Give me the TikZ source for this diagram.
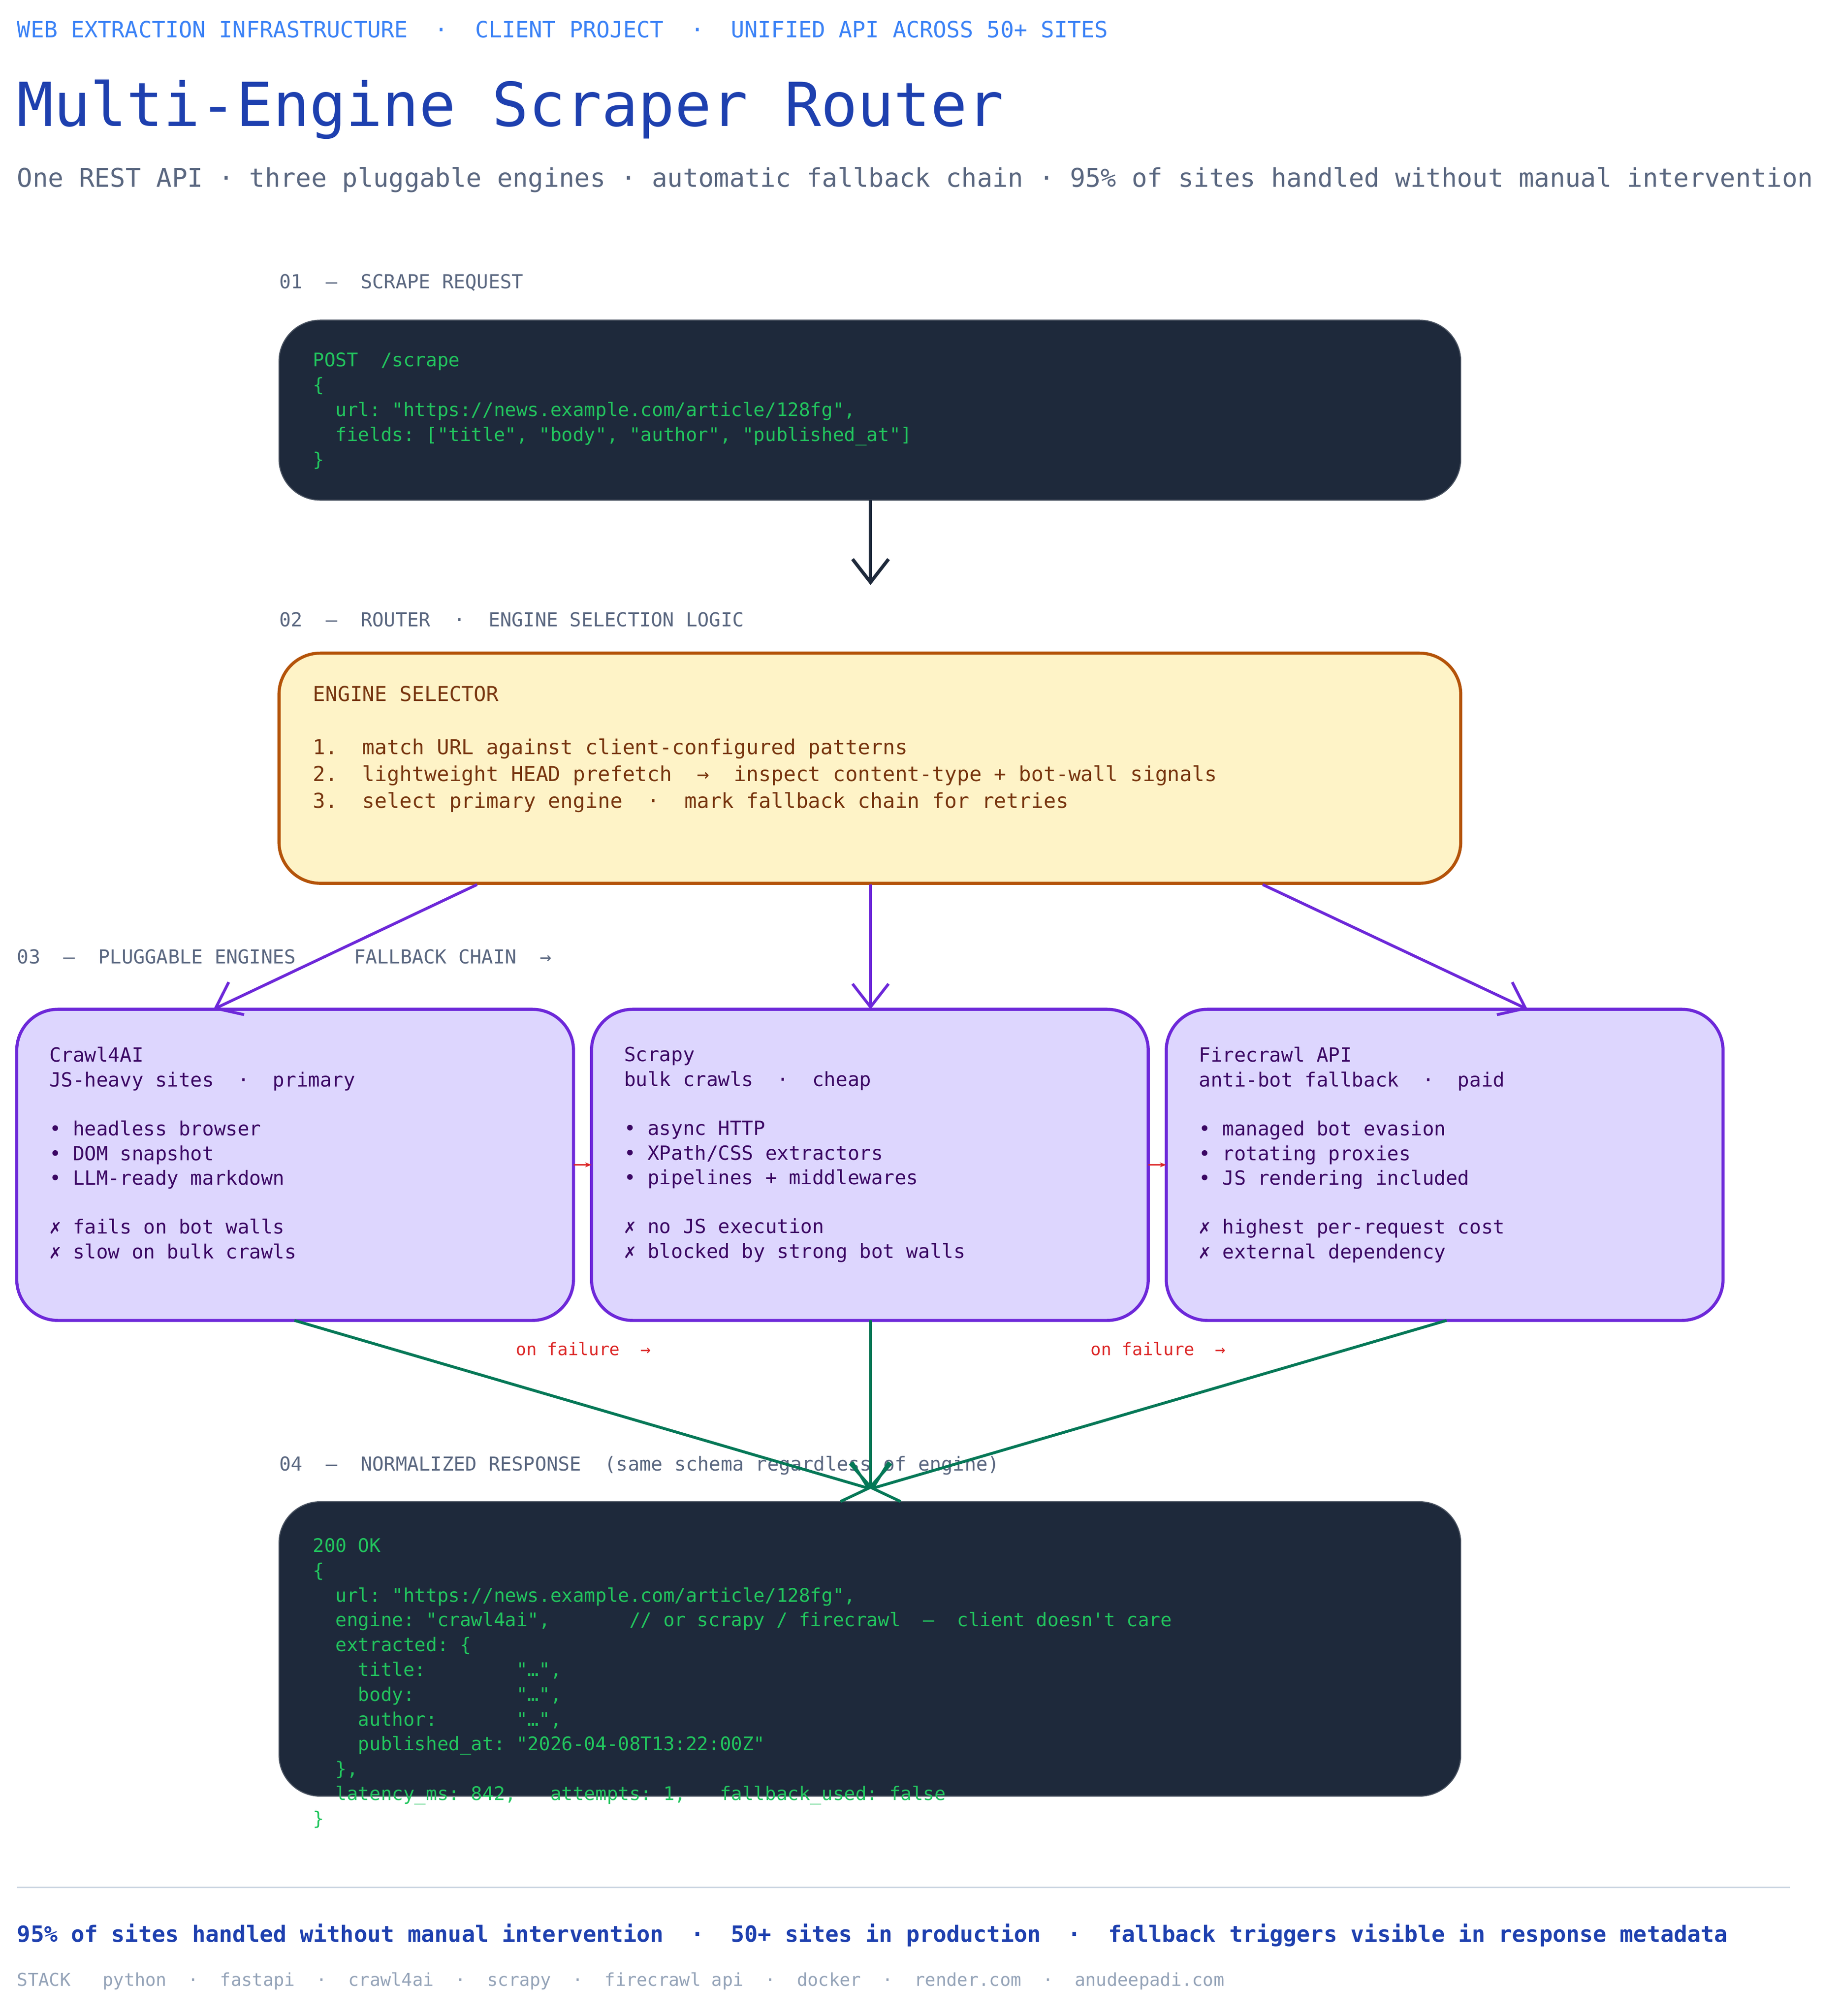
\documentclass[tikz,border=0pt]{standalone}
\usepackage{fontspec}
\setmonofont{DejaVu Sans Mono}
\renewcommand\familydefault{\ttdefault}
\usetikzlibrary{arrows.meta}
\definecolor{hdr}{HTML}{3B82F6}
\definecolor{ttl}{HTML}{1E40AF}
\definecolor{sub}{HTML}{5A6780}
\definecolor{dark}{HTML}{1E293B}
\definecolor{grn}{HTML}{22C55E}
\definecolor{yfill}{HTML}{FEF3C7}
\definecolor{ystroke}{HTML}{B45309}
\definecolor{ytext}{HTML}{78350F}
\definecolor{pfill}{HTML}{DDD6FE}
\definecolor{pstroke}{HTML}{6D28D9}
\definecolor{ptext}{HTML}{3B0764}
\definecolor{red1}{HTML}{DC2626}
\definecolor{green2}{HTML}{047857}
\definecolor{rule}{HTML}{CBD5E1}
\definecolor{stack}{HTML}{94A3B8}
\begin{document}
\begin{tikzpicture}[x=0.5pt,y=-0.5pt,
 txt/.style={inner sep=0pt,anchor=west},
 sec/.style={txt,text=sub,font=\fontsize{7.5}{9}\selectfont},
 code/.style={inner sep=0pt,anchor=north west,align=left,text=grn,font=\fontsize{7.3}{9.65}\selectfont},
 eng/.style={draw=pstroke,fill=pfill,line width=1.2pt,rounded corners=16pt},
 etext/.style={inner sep=0pt,anchor=north west,align=left,text=ptext,font=\fontsize{7.6}{9.55}\selectfont},
 parr/.style={draw=pstroke,line width=1.1pt,-{Straight Barb[length=9pt,width=14pt]}},
 garr/.style={draw=green2,line width=1.1pt,-{Straight Barb[length=9pt,width=16pt]}},
 rarr/.style={draw=red1,line width=0.6pt,-{Stealth[length=2.5pt]}}]
\useasboundingbox (0,0) rectangle (1430,1568);
\fill[white] (0,0) rectangle (1430,1568);
\node[txt,text=hdr,font=\fontsize{8.7}{10}\selectfont] (h) at (13,23) {WEB EXTRACTION INFRASTRUCTURE~~·~~CLIENT PROJECT~~·~~UNIFIED API ACROSS 50+ SITES};
\node[txt,text=ttl,font=\fontsize{23.6}{28}\selectfont] (t) at (13,85) {Multi-Engine Scraper Router};
\node[txt,text=sub,font=\fontsize{10}{12}\selectfont] (s) at (13,140) {One REST API · three pluggable engines · automatic fallback chain · 95\% of sites handled without manual intervention};

\node[sec] (l1) at (217,220) {01~~—~~SCRAPE REQUEST};
\draw[fill=dark,draw=dark!80,rounded corners=16pt] (217,249) rectangle (1136,389);
\coordinate (b1) at (677,389);
\node[code] (c1) at (243,274) {POST~~/scrape\\\{\\~~url: "https://news.example.com/article/128fg",\\~~fields: ["title", "body", "author", "published\_at"]\\\}};
\coordinate (a1) at (677,455);
\draw[draw=dark,line width=1.3pt,-{Straight Barb[length=9pt,width=14pt]}] (b1) -- (a1);

\node[sec] (l2) at (217,482) {02~~—~~ROUTER~~·~~ENGINE SELECTION LOGIC};
\draw[fill=yfill,draw=ystroke,line width=1.2pt,rounded corners=16pt] (217,508) rectangle (1136,687);
\node[inner sep=0pt,anchor=north west,align=left,text=ytext,font=\fontsize{8}{10.4}\selectfont] (c2) at (243,533) {ENGINE SELECTOR\\[10.4pt]1.~~match URL against client-configured patterns\\2.~~lightweight HEAD prefetch~~→~~inspect content-type + bot-wall signals\\3.~~select primary engine~~·~~mark fallback chain for retries};

\node[sec] (l3) at (13,744) {03~~—~~PLUGGABLE ENGINES~~·~~FALLBACK CHAIN~~→};
\draw[eng] (13,785) rectangle (446,1027);
\draw[eng] (460,785) rectangle (893,1027);
\draw[eng] (907,785) rectangle (1340,1027);
\node[etext] (e1) at (38,814) {Crawl4AI\\JS-heavy sites~~·~~primary\\[9.55pt]• headless browser\\• DOM snapshot\\• LLM-ready markdown\\[9.55pt]✗ fails on bot walls\\✗ slow on bulk crawls};
\node[etext] (e2) at (485,814) {Scrapy\\bulk crawls~~·~~cheap\\[9.55pt]• async HTTP\\• XPath/CSS extractors\\• pipelines + middlewares\\[9.55pt]✗ no JS execution\\✗ blocked by strong bot walls};
\node[etext] (e3) at (932,814) {Firecrawl API\\anti-bot fallback~~·~~paid\\[9.55pt]• managed bot evasion\\• rotating proxies\\• JS rendering included\\[9.55pt]✗ highest per-request cost\\✗ external dependency};

\coordinate (s1) at (371,688); \coordinate (d1) at (166,785);
\coordinate (s2) at (677,688); \coordinate (d2) at (677,785);
\coordinate (s3) at (982,688); \coordinate (d3) at (1188,785);
\draw[parr] (s1) -- (d1);
\draw[parr] (s2) -- (d2);
\draw[parr] (s3) -- (d3);

\coordinate (r1a) at (446,906); \coordinate (r1b) at (460,906);
\coordinate (r2a) at (893,906); \coordinate (r2b) at (907,906);
\draw[rarr] (r1a) -- (r1b);
\draw[rarr] (r2a) -- (r2b);
\node[txt,text=red1,font=\fontsize{6.7}{8}\selectfont] (f1) at (401,1049) {on failure~~→};
\node[txt,text=red1,font=\fontsize{6.7}{8}\selectfont] (f2) at (848,1049) {on failure~~→};

\node[sec] (l4) at (217,1140) {04~~—~~NORMALIZED RESPONSE~~(same schema regardless of engine)};
\draw[fill=dark,draw=dark!80,rounded corners=16pt] (217,1168) rectangle (1136,1397);
\coordinate (g1) at (229,1027); \coordinate (g2) at (677,1027); \coordinate (g3) at (1125,1027);
\coordinate (gt) at (677,1158);
\draw[garr] (g1) -- (gt);
\draw[garr] (g2) -- (gt);
\draw[garr] (g3) -- (gt);
\node[code] (c4) at (243,1196) {200 OK\\\{\\~~url: "https://news.example.com/article/128fg",\\~~engine: "crawl4ai",~~~~~~~// or scrapy / firecrawl~~—~~client doesn't care\\~~extracted: \{\\~~~~title:~~~~~~~~"…",\\~~~~body:~~~~~~~~~"…",\\~~~~author:~~~~~~~"…",\\~~~~published\_at: "2026-04-08T13:22:00Z"\\~~\},\\~~latency\_ms: 842,~~~attempts: 1,~~~fallback\_used: false\\\}};

\coordinate (ra) at (13,1468); \coordinate (rb) at (1392,1468);
\draw[rule,line width=0.6pt] (ra) -- (rb);
\node[txt,text=ttl,font=\bfseries\fontsize{8.7}{10}\selectfont] (ft) at (13,1505) {95\% of sites handled without manual intervention~~·~~50+ sites in production~~·~~fallback triggers visible in response metadata};
\node[txt,text=stack,font=\fontsize{6.9}{8}\selectfont] (st) at (13,1541) {STACK~~~python~~·~~fastapi~~·~~crawl4ai~~·~~scrapy~~·~~firecrawl api~~·~~docker~~·~~render.com~~·~~anudeepadi.com};
\end{tikzpicture}
\end{document}
